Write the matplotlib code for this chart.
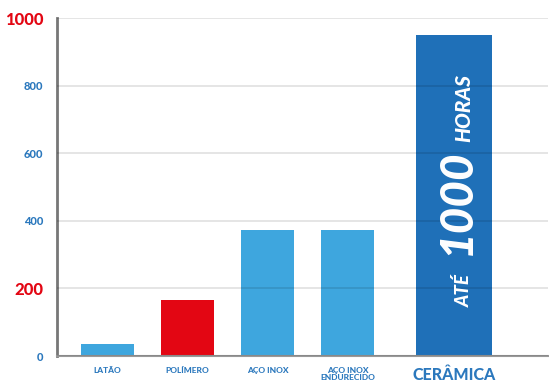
import matplotlib.pyplot as plt

categories = ['LATÃO', 'POLÍMERO', 'AÇO INOX', 'AÇO INOX\nENDURECIDO', 'CERÂMICA']
values = [35, 165, 373, 373, 950]
yticks = [0, 200, 400, 600, 800, 1000]

light_blue = '#3ea6de'
red = '#e30613'
dark_blue = '#1f70b8'
label_blue = '#2b78bd'

plt.rcParams['font.family'] = ['Lato', 'DejaVu Sans']

fig = plt.figure(figsize=(5.49, 3.84), dpi=100)
ax = fig.add_axes([0.1038, 0.0729, 0.894, 0.8802])

pos = [0, 1, 2, 3, 4.33]
widths = [0.66, 0.66, 0.66, 0.66, 0.95]
colors = [light_blue, red, light_blue, light_blue, dark_blue]
ax.bar(pos, values, width=widths, color=colors, zorder=1)

ax.set_xlim(-0.63, 5.5)
ax.set_ylim(0, 1000)

ax.set_yticks(yticks)
ax.set_yticklabels([str(t) for t in yticks])
for t, lab in zip(yticks, ax.get_yticklabels()):
    if t in (200, 1000):
        lab.set_color(red)
        lab.set_fontsize(12)
    else:
        lab.set_color(label_blue)
        lab.set_fontsize(8)
    lab.set_fontweight('black')
ax.tick_params(axis='y', length=0, pad=10)
ax.grid(axis='y', color='black', alpha=0.12, linewidth=1.2, zorder=2)
ax.set_axisbelow(False)

ax.set_xticks(pos)
ax.set_xticklabels(categories)
ax.tick_params(axis='x', length=0, pad=8)
for i, lab in enumerate(ax.get_xticklabels()):
    lab.set_color(label_blue)
    lab.set_fontweight('black')
    lab.set_fontsize(11.5 if i == 4 else 6)
    lab.set_linespacing(1.0)
    lab.set_verticalalignment('top')

for s in ['top', 'right']:
    ax.spines[s].set_visible(False)
ax.spines['left'].set_color('#777777')
ax.spines['left'].set_linewidth(2)
ax.spines['bottom'].set_color('#999999')
ax.spines['bottom'].set_linewidth(1.5)

tx = 4.53
ax.text(tx, 145, 'ATÉ', rotation=90, rotation_mode='anchor', ha='left', va='baseline',
        color='white', fontsize=13.5, fontweight='black', style='italic', zorder=3)
ax.text(tx, 300, '1000', rotation=90, rotation_mode='anchor', ha='left', va='baseline',
        color='white', fontsize=33, fontweight='black', style='italic', zorder=3)
ax.text(tx, 632, 'HORAS', rotation=90, rotation_mode='anchor', ha='left', va='baseline',
        color='white', fontsize=15, fontweight='black', style='italic', zorder=3)

fig.savefig('out.png', dpi=100)
